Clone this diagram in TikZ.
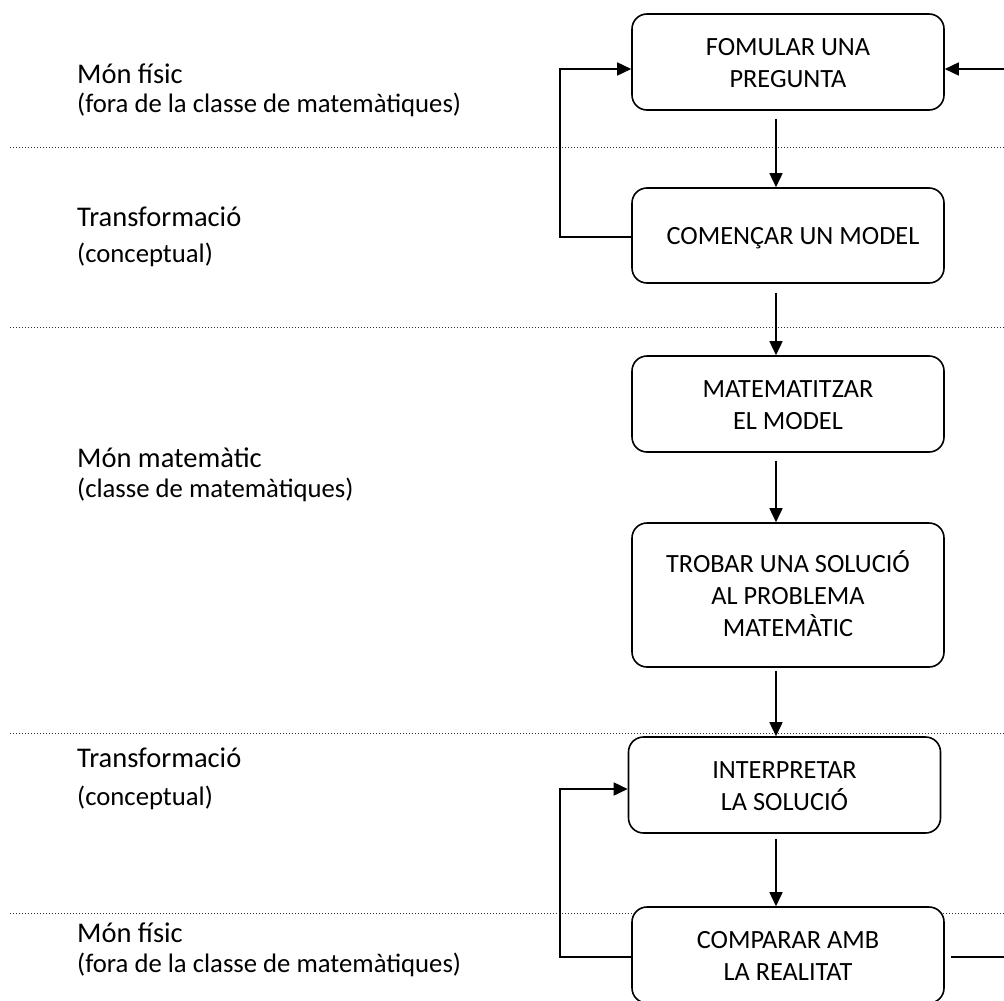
\documentclass[tikz,border=0pt]{standalone}
\usepackage{fontspec}
\setmainfont{Carlito}
\usetikzlibrary{arrows.meta,calc}
\newcommand\topst{\rule{0pt}{23pt}}
\newcommand\botst{\rule[-4pt]{0pt}{4pt}}
\tikzset{
  stagebox/.style={draw, line width=1.6pt, rounded corners=15pt, fill=white,
    minimum width=312pt, align=center, inner sep=0pt,
    font=\fontsize{26.3pt}{32pt}\selectfont},
  arr/.style={line width=1.6pt, -{Triangle[length=14pt,width=13pt]}},
  plain/.style={line width=1.6pt},
  sep/.style={line width=0.9pt, black!80, dash pattern=on 1pt off 2pt},
  lab/.style={anchor=base west, inner sep=0pt, font=\fontsize{28.5pt}{32pt}\selectfont},
  sublab/.style={anchor=base west, inner sep=0pt, font=\fontsize{26.7pt}{30pt}\selectfont}
}
\begin{document}
\begin{tikzpicture}[x=1pt,y=-1pt]
\useasboundingbox (0,0) rectangle (1004,1001);
\clip (0,0) rectangle (1004,1001);
% separators
\coordinate (s1a) at (10,147); \coordinate (s1b) at (1004,147);
\coordinate (s2a) at (10,327); \coordinate (s2b) at (1004,327);
\coordinate (s3a) at (10,733); \coordinate (s3b) at (1004,733);
\coordinate (s4a) at (10,913); \coordinate (s4b) at (1004,913);
\draw[sep] (s1a) -- (s1b);
\draw[sep] (s2a) -- (s2b);
\draw[sep] (s3a) -- (s3b);
\draw[sep] (s4a) -- (s4b);
% left labels
\node[lab] (l1) at (77,83) {Món físic};
\node[sublab] (l1b) at (77,112) {(fora de la classe de matemàtiques)};
\node[lab] (l2) at (77,226) {Transformació};
\node[sublab] (l2b) at (77,262) {(conceptual)};
\node[lab] (l3) at (77,467) {Món matemàtic};
\node[sublab] (l3b) at (77,497) {(classe de matemàtiques)};
\node[lab] (l4) at (77,767) {Transformació};
\node[sublab] (l4b) at (77,805) {(conceptual)};
\node[lab] (l5) at (77,942) {Món físic};
\node[sublab] (l5b) at (77,972) {(fora de la classe de matemàtiques)};
% boxes
\node[stagebox, minimum height=96pt] (b1) at (788,62) {\topst FOMULAR UNA\\PREGUNTA\botst};
\node[stagebox, minimum height=95pt] (b2) at (788,235.5) {\topst\hspace*{10pt}COMENÇAR UN MODEL\botst};
\node[stagebox, minimum height=96pt] (b3) at (788,404) {\topst MATEMATITZAR\\EL MODEL\botst};
\node[stagebox, minimum height=144pt] (b4) at (788,595) {\topst TROBAR UNA SOLUCIÓ\\AL PROBLEMA\\MATEMÀTIC\botst};
\node[stagebox, minimum height=96pt] (b5) at (784.5,785) {\topst INTERPRETAR\\LA SOLUCIÓ\botst};
\node[stagebox, minimum height=96pt] (b6) at (788,955) {\topst COMPARAR AMB\\LA REALITAT\botst};
% main flow
\draw[arr] ($(b1.south)+(-12,8)$) -- ($(b2.north)+(-12,0)$);
\draw[arr] ($(b2.south)+(-12,9)$) -- ($(b3.north)+(-12,0)$);
\draw[arr] ($(b3.south)+(-12,8)$) -- ($(b4.north)+(-12,0)$);
\draw[arr] ($(b4.south)+(-12,3)$) -- ($(b5.north)+(-8.5,0)$);
\draw[arr] ($(b5.south)+(-8.5,5)$) -- ($(b6.north)+(-12,0)$);
% feedback loops
\coordinate (k1) at (560,69);
\coordinate (k2) at (560,789);
\draw[arr] ($(b2.west)+(0,1.5)$) -| (k1) -- ($(b1.west)+(0,7)$);
\draw[arr] ($(b6.west)+(0,2)$) -| (k2) -- ($(b5.west)+(0,4)$);
% right side connectors
\coordinate (r1) at (1004,69);
\coordinate (r2) at (1004,957);
\draw[arr] (r1) -- ($(b1.east)+(0,7)$);
\draw[plain] ($(b6.east)+(6,2)$) -- (r2);
\end{tikzpicture}
\end{document}
